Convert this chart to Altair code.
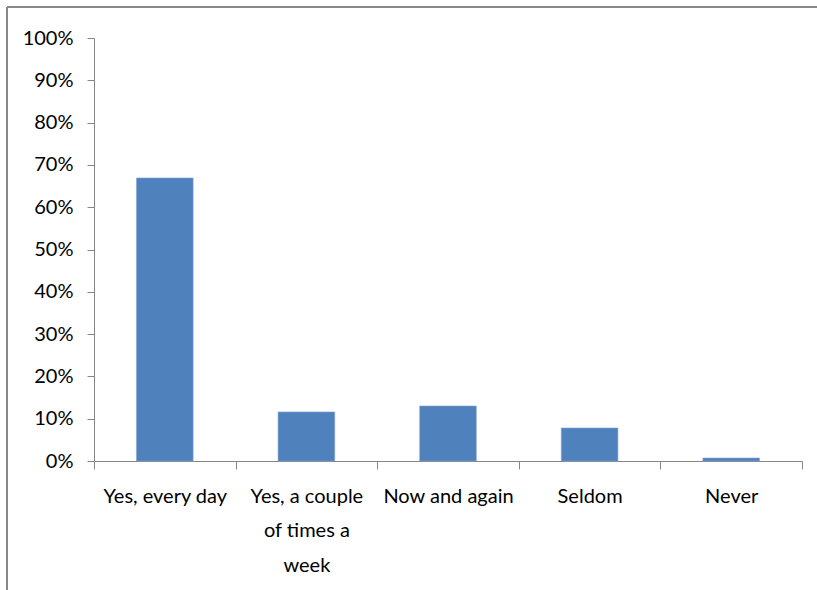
import altair as alt
import pandas as pd

categories = ["Yes, every day", "Yes, a couple of times a week", "Now and again", "Seldom", "Never"]
values = [0.669, 0.116, 0.130, 0.078, 0.007]

df = pd.DataFrame({"category": categories, "value": values})

FONT = "Lato"
GRAY = "#868686"

bars = alt.Chart(df).mark_bar(
    color="#4F81BD", stroke="#7FA3D1", strokeWidth=0.6, width=alt.RelativeBandSize(0.4)
).encode(
    x=alt.X(
        "category:N",
        sort=categories,
        title=None,
        scale=alt.Scale(paddingInner=0, paddingOuter=0),
        axis=alt.Axis(
            labelAngle=0,
            tickBand="extent",
            tickSize=8,
            tickColor=GRAY,
            domainColor=GRAY,
            labelFont=FONT,
            labelFontSize=20,
            labelColor="#000000",
            labelPadding=17,
            labelLineHeight=34.5,
            labelBaseline="top",
            labelExpr="datum.value == 'Yes, a couple of times a week' ? ['Yes, a couple', 'of times a', 'week'] : datum.value",
        ),
    ),
    y=alt.Y(
        "value:Q",
        title=None,
        scale=alt.Scale(domain=[0, 1], nice=False),
        axis=alt.Axis(
            values=[0, 0.1, 0.2, 0.3, 0.4, 0.5, 0.6, 0.7, 0.8, 0.9, 1.0],
            format=".0%",
            grid=False,
            tickSize=7,
            tickColor=GRAY,
            domainColor=GRAY,
            labelFont=FONT,
            labelFontSize=20,
            labelColor="#000000",
            labelPadding=14,
        ),
    ),
)

frame_left = alt.Chart(df).mark_rule(color="#888888", strokeWidth=2).encode(
    x=alt.value(-87), y=alt.value(-31), y2=alt.value(560)
)
frame_top = alt.Chart(df).mark_rule(color="#888888", strokeWidth=2).encode(
    x=alt.value(-87), x2=alt.value(730), y=alt.value(-31)
)

chart = alt.layer(bars, frame_left, frame_top).properties(
    width=708,
    height=423,
    padding={"left": 94, "top": 38, "right": 15, "bottom": 129},
    autosize=alt.AutoSizeParams(type="none"),
).configure(background="white").configure_view(stroke="transparent", strokeWidth=0)

chart.save("out.html", embed_options={"renderer": "svg", "actions": False})
